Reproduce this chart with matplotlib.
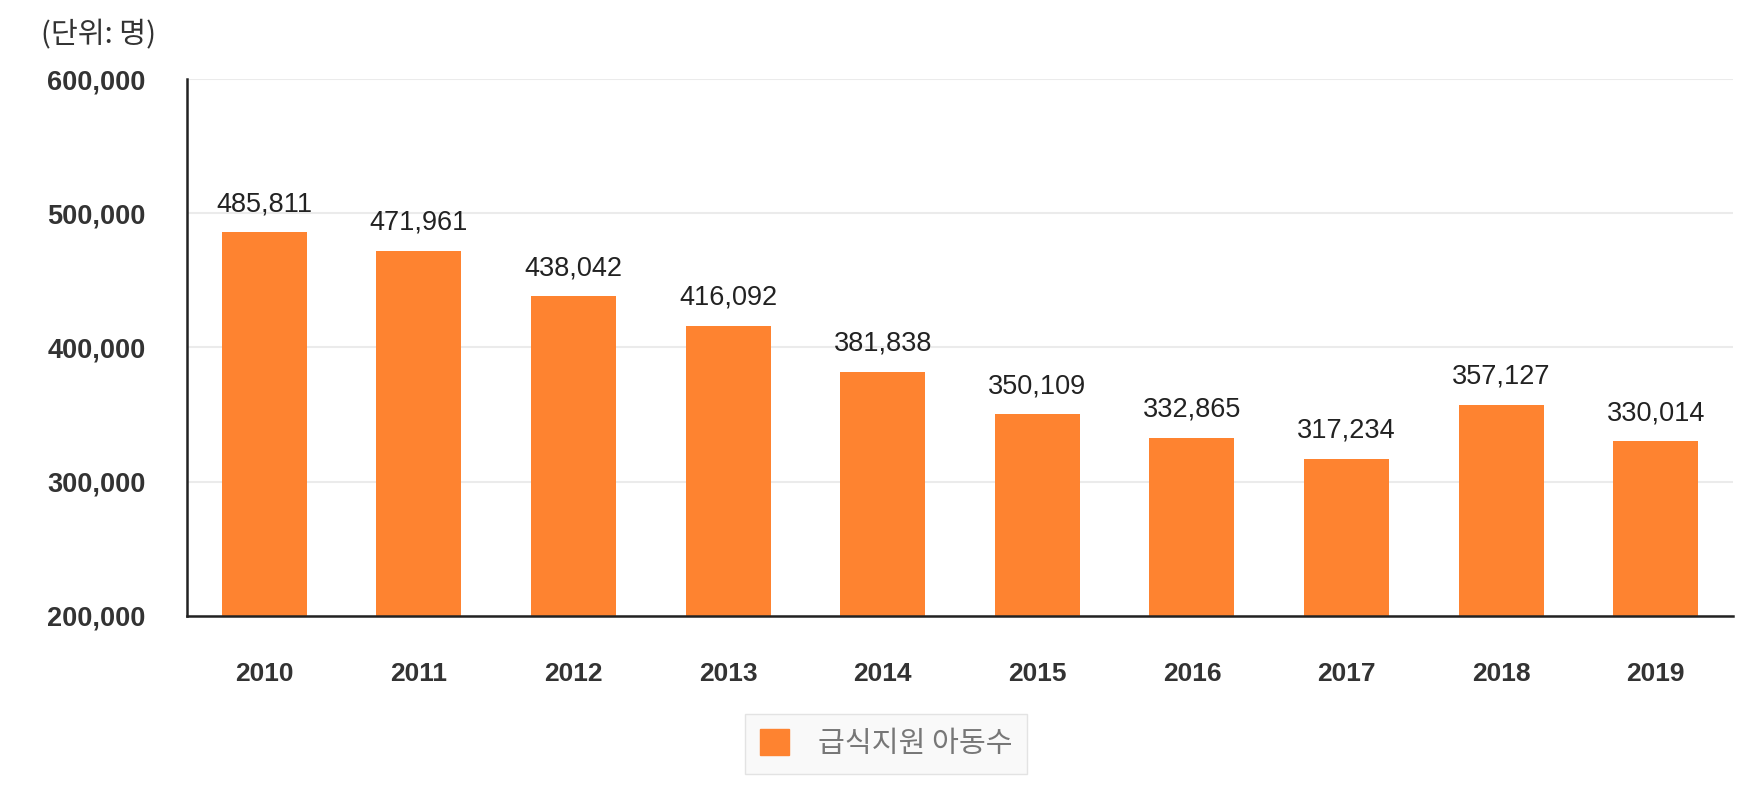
import matplotlib
matplotlib.use("Agg")
import matplotlib.pyplot as plt
from matplotlib.patches import Patch

plt.rcParams['font.family'] = ['Liberation Sans', 'Noto Sans CJK KR', 'DejaVu Sans']

years = ['2010', '2011', '2012', '2013', '2014', '2015', '2016', '2017', '2018', '2019']
values = [485811, 471961, 438042, 416092, 381838, 350109, 332865, 317234, 357127, 330014]
yticks = [200000, 300000, 400000, 500000, 600000]
unit_label = '(단위: 명)'
series_name = '급식지원 아동수'

bar_color = '#FE8330'

fig = plt.figure(figsize=(17.55, 7.87), dpi=100)
ax = fig.add_axes([0.1066, 0.2173, 0.9875 - 0.1066, 0.8996 - 0.2173])

x = list(range(len(years)))
bars = ax.bar(x, values, width=0.55, color=bar_color, zorder=2)

ax.set_xlim(-0.5, len(years) - 0.5)
ax.set_ylim(200000, 600000)
ax.set_yticks(yticks)
ax.set_yticklabels([f'{v:,}' for v in yticks])
ax.set_xticks(x)
ax.set_xticklabels(years)

for lab in ax.get_yticklabels():
    lab.set_fontsize(19.5)
    lab.set_fontweight('bold')
    lab.set_color('#333333')
for lab in ax.get_xticklabels():
    lab.set_fontsize(19)
    lab.set_fontweight('bold')
    lab.set_color('#333333')

ax.tick_params(axis='y', length=0, pad=30)
ax.tick_params(axis='x', length=0, pad=33)

ax.grid(axis='y', color='#ebebeb', linewidth=1.5, zorder=0)
ax.set_axisbelow(True)
for s in ['top', 'right']:
    ax.spines[s].set_visible(False)
for s in ['left', 'bottom']:
    ax.spines[s].set_color('#222222')
    ax.spines[s].set_linewidth(1.8)
    ax.spines[s].set_zorder(3)

for xi, v in zip(x, values):
    ax.annotate(f'{v:,}', (xi, v), xytext=(0, 11), textcoords='offset points',
                ha='center', va='bottom', fontsize=19.5, color='#222222')

fig.text(41 / 1755, 1 - 35 / 787, unit_label, fontsize=21, color='#333333',
         ha='left', va='center', family=['Noto Sans CJK KR', 'DejaVu Sans'])

handle = Patch(facecolor=bar_color, edgecolor=bar_color)
leg = fig.legend([handle], [series_name], loc='center', bbox_to_anchor=(0.505, 0.0546),
                 frameon=True, fancybox=False, facecolor='#f8f8f8', edgecolor='#dddddd',
                 handlelength=1.0, handleheight=1.0, handletextpad=1.0,
                 borderpad=0.5, borderaxespad=0,
                 prop={'family': ['Noto Sans CJK KR', 'DejaVu Sans'], 'size': 21})
for t in leg.get_texts():
    t.set_color('#777777')

fig.savefig('out.png', dpi=100)
